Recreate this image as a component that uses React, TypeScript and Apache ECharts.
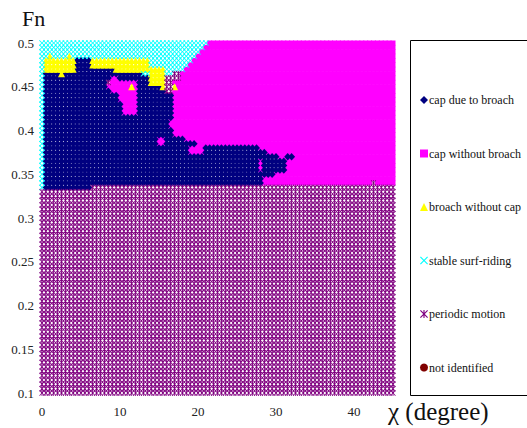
import React, { useEffect, useRef } from "react";
import * as echarts from "echarts";

// sampling grid of the simulation
const X_MIN = 0;
const X_MAX = 45;
const X_STEP = 0.5;
const Y_MIN = 0.1;
const Y_MAX = 0.5;
const Y_STEP = 0.005;

const categories = [
  "cap due to broach",
  "cap without broach",
  "broach without cap",
  "stable surf-riding",
  "periodic motion",
  "not identified",
];
const colors = ["#000080", "#FF00FF", "#FFFF00", "#00FFFF", "#800080", "#800000"];

// regions: [xFrom, xTo, yFrom, yTo] (inclusive)
const capWithoutBroachBase = [[0, 45, 0.34, 0.5]];
const periodicBase = [
  [0, 6, 0.1, 0.33],
  [6.5, 45, 0.1, 0.335],
];
const surfRidingTop = [
  [0, 21, 0.5, 0.5],
  [0, 20.5, 0.495, 0.495],
  [0, 20, 0.49, 0.49],
  [0, 19.5, 0.485, 0.485],
  [0, 19, 0.48, 0.48],
  [0, 18.5, 0.475, 0.475],
  [0, 18, 0.47, 0.47],
  [0, 17.5, 0.465, 0.465],
];
const broachBand = [
  [0.5, 4, 0.47, 0.48],
  [1, 1, 0.485, 0.485],
  [3.5, 3.5, 0.485, 0.485],
  [6.5, 13.5, 0.47, 0.48],
  [14, 15.5, 0.455, 0.47],
];
const capDueToBroach = [
  [0.5, 4, 0.335, 0.465],
  [4.5, 6, 0.335, 0.48],
  [6.5, 9, 0.34, 0.47],
  [9.5, 12.5, 0.34, 0.465],
  [13, 13.5, 0.34, 0.46],
  [14, 15.5, 0.34, 0.45],
  [16, 16.5, 0.34, 0.44],
  [17, 18, 0.39, 0.39],
  [17, 19.5, 0.385, 0.385],
  [17, 27.5, 0.38, 0.38],
  [17, 28.5, 0.375, 0.375],
  [17, 30, 0.37, 0.37],
  [31.5, 32, 0.37, 0.37],
  [17, 31, 0.355, 0.365],
  [17, 29.5, 0.35, 0.35],
  [17, 28, 0.34, 0.345],
];
const capWithoutBroachIslands = [
  [8.5, 8.5, 0.45, 0.455],
  [9, 9.5, 0.445, 0.46],
  [10, 12, 0.435, 0.455],
  [10.5, 12, 0.42, 0.43],
  [15, 15.5, 0.385, 0.39],
  [19, 20.5, 0.375, 0.38],
  [28, 28, 0.355, 0.365],
  [16.5, 16.5, 0.405, 0.41],
];
const periodicSpots = [
  [16, 16.5, 0.445, 0.46],
  [17, 17.5, 0.46, 0.465],
  [8.5, 8.5, 0.455, 0.455],
  [42.5, 42.5, 0.34, 0.34],
];
const surfRidingEdge = [[0, 0, 0.335, 0.5]];
const broachSpots = [
  [2.5, 2.5, 0.465, 0.465],
  [11.5, 11.5, 0.45, 0.45],
  [15.5, 15.5, 0.45, 0.45],
  [17, 17, 0.45, 0.45],
];

const layers: [number, number[][]][] = [
  [1, capWithoutBroachBase],
  [4, periodicBase],
  [3, surfRidingTop],
  [2, broachBand],
  [0, capDueToBroach],
  [1, capWithoutBroachIslands],
  [4, periodicSpots],
  [3, surfRidingEdge],
  [2, broachSpots],
];

const xTicks = [0, 10, 20, 30, 40];

const X_PATH =
  "path://M0,1L1,0L5,4L9,0L10,1L6,5L10,9L9,10L5,6L1,10L0,9L4,5Z";
const STAR_PATH =
  "path://M0,1L1,0L5,4L9,0L10,1L6,5L10,9L9,10L5,6L1,10L0,9L4,5ZM4.3,0L5.7,0L5.7,10L4.3,10Z";

function buildData() {
  const nx = Math.round((X_MAX - X_MIN) / X_STEP);
  const ny = Math.round((Y_MAX - Y_MIN) / Y_STEP);
  const grid: number[][] = [];
  for (let j = 0; j <= ny; j++) {
    grid.push(new Array(nx + 1).fill(-1));
  }
  const ix = (v: number) => Math.round((v - X_MIN) / X_STEP);
  const iy = (v: number) => Math.round((v - Y_MIN) / Y_STEP);
  layers.forEach(([cat, rects]) => {
    rects.forEach(([x0, x1, y0, y1]) => {
      for (let j = iy(y0); j <= iy(y1); j++) {
        for (let i = ix(x0); i <= ix(x1); i++) {
          grid[j][i] = cat;
        }
      }
    });
  });
  const out: number[][][] = categories.map(() => []);
  for (let j = 0; j <= ny; j++) {
    for (let i = 0; i <= nx; i++) {
      const c = grid[j][i];
      if (c >= 0) {
        out[c].push([
          +(X_MIN + i * X_STEP).toFixed(2),
          +(Y_MIN + j * Y_STEP).toFixed(3),
        ]);
      }
    }
  }
  return out;
}

const symbols = ["diamond", "rect", "triangle", X_PATH, STAR_PATH, "circle"];
const sizes: (number | number[])[] = [[7, 7.5], 5, [7, 7], [6, 6], [5.5, 6], 7];

export default function App() {
  const ref = useRef<HTMLDivElement>(null);
  useEffect(() => {
    if (!ref.current) return;
    const chart = echarts.init(ref.current, null, { renderer: "svg" });
    const data = buildData();
    const serif = "Times New Roman";
    const order = [1, 0, 2, 3, 4, 5];
    chart.setOption({
      animation: false,
      backgroundColor: "#fff",
      textStyle: { fontFamily: serif },
      grid: { left: 42, top: 43, width: 351, height: 350 },
      xAxis: {
        type: "value",
        min: X_MIN,
        max: X_MAX,
        interval: 10,
        axisLine: { show: false },
        axisTick: { show: false },
        splitLine: { show: false },
        axisLabel: {
          showMaxLabel: false,
          margin: 12,
          fontFamily: serif,
          fontSize: 13,
          color: "#222",
          formatter: (v: number) => (xTicks.includes(v) ? String(v) : ""),
        },
      },
      yAxis: {
        type: "value",
        min: 0.1,
        max: 0.5,
        interval: 0.05,
        axisLine: { show: false },
        axisTick: { show: false },
        splitLine: { show: false },
        axisLabel: {
          margin: 8,
          fontFamily: serif,
          fontSize: 13,
          color: "#222",
          formatter: (v: number) => String(+v.toFixed(2)),
        },
      },
      legend: {
        orient: "vertical",
        left: 415,
        top: 89,
        itemGap: 41.5,
        itemWidth: 8,
        itemHeight: 8,
        textStyle: { fontFamily: serif, fontSize: 12, color: "#111", padding: [0, 0, 0, -4] },
        data: categories.map((c) => ({ name: c })),
      },
      graphic: [
        {
          type: "rect",
          shape: { x: 410.5, y: 40.5, width: 130, height: 355 },
          style: { fill: "none", stroke: "#000", lineWidth: 1 },
          silent: true,
        },
        {
          type: "text",
          left: 22,
          top: 7,
          style: { text: "Fn", fontFamily: serif, fontSize: 22, fill: "#111" },
        },
        {
          type: "text",
          left: 388,
          top: 399,
          style: { text: "χ (degree)", fontFamily: serif, fontSize: 25, fill: "#111" },
        },
      ],
      series: order.map((k) => ({
        name: categories[k],
        type: "scatter",
        data: data[k],
        symbol: symbols[k],
        symbolSize: sizes[k],
        itemStyle: { color: colors[k], opacity: 1 },
        large: false,
        progressive: 0,
        silent: true,
      })),
    });
    return () => chart.dispose();
  }, []);
  return (
    <div
      ref={ref}
      style={{ position: "absolute", left: 0, top: 0, width: 527, height: 428, background: "#fff" }}
    />
  );
}
